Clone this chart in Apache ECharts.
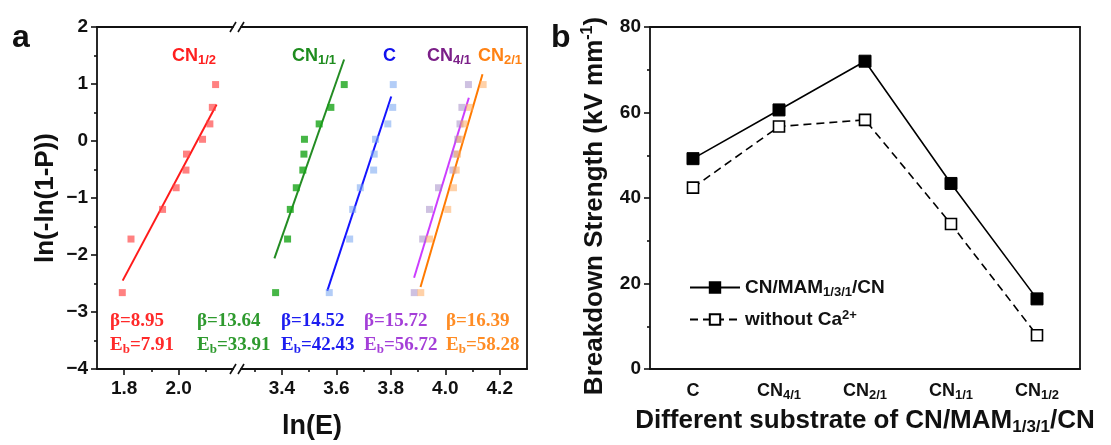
<!DOCTYPE html>
<html>
<head>
<meta charset="utf-8">
<script src="https://cdn.jsdelivr.net/npm/echarts@6/dist/echarts.min.js"></script>
<style>
  html, body { margin: 0; padding: 0; background: #fff; }
  #chart { width: 1111px; height: 445px; }
</style>
</head>
<body>
<div id="chart"></div>
<script>
// ---- (a) Weibull plots ----
// ln(-ln(1-P)) levels of the ten ranked samples
const weibullY = [-2.66, -1.72, -1.20, -0.82, -0.51, -0.23, 0.03, 0.30, 0.59, 0.99];
// ln(E) of the ranked breakdown fields for each film
const lnE_CN12 = [1.793, 1.825, 1.941, 1.991, 2.027, 2.029, 2.088, 2.115, 2.124, 2.136];
const lnE_CN11 = [3.377, 3.421, 3.431, 3.453, 3.477, 3.481, 3.483, 3.537, 3.580, 3.629];
const lnE_C    = [3.574, 3.649, 3.660, 3.688, 3.737, 3.739, 3.744, 3.789, 3.807, 3.809];
const lnE_CN41 = [3.886, 3.917, 3.942, 3.975, 4.028, 4.036, 4.046, 4.054, 4.061, 4.085];
const lnE_CN21 = [3.910, 3.942, 4.009, 4.030, 4.040, 4.045, 4.054, 4.069, 4.089, 4.139];
// film order used in panel (a)
const weibullFilms = ['CN1/2', 'CN1/1', 'C', 'CN4/1', 'CN2/1'];
// Weibull shape parameter and characteristic breakdown strength (kV/mm)
const beta = [8.95, 13.64, 14.52, 15.72, 16.39];
const Eb   = [7.91, 33.91, 42.43, 56.72, 58.28];
// y span covered by each fitted line
const fitYSpan = [[-2.45, 0.64], [-2.06, 1.43], [-2.63, 0.78], [-2.40, 0.76], [-2.56, 1.17]];
// tick values of the broken ln(E) axis
const xTicksLow  = [1.8, 2.0];
const xTicksHigh = [3.4, 3.6, 3.8, 4.0, 4.2];
const xMinorLow  = [1.9, 2.1];
const xMinorHigh = [3.3, 3.5, 3.7, 3.9, 4.1];

// ---- (b) breakdown strength vs substrate ----
const substrates = ['C', 'CN4/1', 'CN2/1', 'CN1/1', 'CN1/2'];
const withCa     = [49.2, 60.6, 72.0, 43.4, 16.4];
const withoutCa  = [42.43, 56.72, 58.28, 33.91, 7.91];

// ---------------- styling ----------------
const SANS = '"Liberation Sans", Arial, sans-serif';
const SERIF = '"Liberation Serif", "Times New Roman", serif';
const AXIS = '#111';
const AXW = 1.8;

const pointColor = ['rgba(255,70,70,0.85)', '#18a418', 'rgba(120,165,240,0.7)', 'rgba(155,130,195,0.62)', 'rgba(255,170,95,0.68)'];
const lineColor  = ['#ff1a1a', '#238c23', '#1414ff', '#cc3dff', '#ff7a00'];
const nameColor  = ['#ff1f1f', '#1e8c1e', '#1010ee', '#7b1f88', '#ff8214'];
const statColor  = ['#ff2a2a', '#2e9a2e', '#1e1ef0', '#a43fd8', '#ff8c24'];
const pointSets  = [lnE_CN12, lnE_CN11, lnE_C, lnE_CN41, lnE_CN21];

// layout of panel (a): two grids forming one broken frame
const gA1 = { left: 97, top: 27, width: 136, height: 342 };
const gA2 = { left: 241, top: 27, width: 286, height: 342 };
const gB  = { left: 650, top: 27, width: 430, height: 342 };

// text placement in panel (a)
const namePos = [[172, 47], [292, 47], [383, 47], [427, 47], [478, 47]];
const statX = [110, 197, 281, 364, 446];
const statTop = [312, 336];

function subLabel(txt) {
  // 'CN1/2' -> CN with subscript 1/2
  if (txt.length <= 2) return '{m|' + txt + '}';
  return '{m|' + txt.slice(0, 2) + '}{s|' + txt.slice(2) + '}';
}
const fmt1 = v => v.toFixed(1);
const minus = v => (v < 0 ? '\u2212' + Math.abs(v) : String(v));

// ---------------- series ----------------
const series = [];
weibullFilms.forEach((f, i) => {
  const low = i === 0;
  const xi = low ? 0 : 3;
  const yi = low ? 0 : 1;
  const lnEb = Math.log(Eb[i]);
  const fit = fitYSpan[i].map(y => [lnEb + y / beta[i], y]);
  series.push({
    type: 'line', name: f + ' fit', xAxisIndex: xi, yAxisIndex: yi,
    data: fit, showSymbol: false, silent: true, z: 2,
    lineStyle: { color: lineColor[i], width: 2 }
  });
  series.push({
    type: 'scatter', name: f, xAxisIndex: xi, yAxisIndex: yi,
    data: pointSets[i].map((x, k) => [x, weibullY[k]]),
    symbol: 'rect', symbolSize: 7, z: 3,
    itemStyle: { color: pointColor[i] }
  });
});

series.push({
  type: 'line', name: 'CN/MAM1/3/1/CN', xAxisIndex: 6, yAxisIndex: 2,
  data: withCa, symbol: 'rect', symbolSize: 12, z: 4,
  lineStyle: { color: '#000', width: 1.6 },
  itemStyle: { color: '#000', borderColor: '#000', borderWidth: 1 }
});
series.push({
  type: 'line', name: 'without Ca2+', xAxisIndex: 6, yAxisIndex: 2,
  data: withoutCa, symbol: 'rect', symbolSize: 11, z: 4,
  lineStyle: { color: '#000', width: 1.6, type: [8, 5] },
  itemStyle: { color: '#fff', borderColor: '#000', borderWidth: 1.6 }
});

// ---------------- axes ----------------
const frameLine = { show: true, onZero: false, lineStyle: { color: AXIS, width: AXW } };
const lineOnly = (extra) => Object.assign({
  axisLine: frameLine,
  axisTick: { show: false }, axisLabel: { show: false }, splitLine: { show: false }
}, extra);

const tickLabel = { color: '#111', fontFamily: SANS, fontWeight: 'bold', fontSize: 19 };

const xAxis = [
  // 0: lower segment, major ticks + labels
  { type: 'value', gridIndex: 0, position: 'bottom', min: 1.7, max: 2.2,
    axisLine: frameLine,
    axisTick: { customValues: xTicksLow, length: 6, lineStyle: { color: AXIS, width: 1.6 } },
    axisLabel: Object.assign({ customValues: xTicksLow, formatter: fmt1, margin: 10 }, tickLabel),
    splitLine: { show: false } },
  // 1: lower segment, minor ticks
  { type: 'value', gridIndex: 0, position: 'bottom', min: 1.7, max: 2.2,
    axisLine: { show: false, onZero: false },
    axisTick: { customValues: xMinorLow, length: 3, lineStyle: { color: AXIS, width: 1.6 } },
    axisLabel: { show: false }, splitLine: { show: false } },
  // 2: lower segment, top frame
  lineOnly({ type: 'value', gridIndex: 0, position: 'top', min: 1.7, max: 2.2 }),
  // 3: upper segment, major ticks + labels
  { type: 'value', gridIndex: 1, position: 'bottom', min: 3.25, max: 4.3,
    axisLine: frameLine,
    axisTick: { customValues: xTicksHigh, length: 6, lineStyle: { color: AXIS, width: 1.6 } },
    axisLabel: Object.assign({ customValues: xTicksHigh, formatter: fmt1, margin: 10 }, tickLabel),
    splitLine: { show: false } },
  // 4: upper segment, minor ticks
  { type: 'value', gridIndex: 1, position: 'bottom', min: 3.25, max: 4.3,
    axisLine: { show: false, onZero: false },
    axisTick: { customValues: xMinorHigh, length: 3, lineStyle: { color: AXIS, width: 1.6 } },
    axisLabel: { show: false }, splitLine: { show: false } },
  // 5: upper segment, top frame
  lineOnly({ type: 'value', gridIndex: 1, position: 'top', min: 3.25, max: 4.3 }),
  // 6: panel (b) substrates
  { type: 'category', gridIndex: 2, position: 'bottom', data: substrates, boundaryGap: true,
    axisLine: frameLine,
    axisTick: { alignWithLabel: true, interval: 0, length: 6, lineStyle: { color: AXIS, width: 1.6 } },
    axisLabel: {
      interval: 0, margin: 11, formatter: subLabel,
      rich: {
        m: { fontFamily: SANS, fontWeight: 'bold', fontSize: 18, color: '#111', lineHeight: 22 },
        s: { fontFamily: SANS, fontWeight: 'bold', fontSize: 13, color: '#111', lineHeight: 13, verticalAlign: 'bottom' }
      }
    },
    name: '{t|Different substrate of CN/MAM}{s|1/3/1}{t|/CN}',
    nameLocation: 'middle', nameGap: 37,
    nameTextStyle: {
      rich: {
        t: { fontFamily: SANS, fontWeight: 'bold', fontSize: 26, color: '#111', lineHeight: 30 },
        s: { fontFamily: SANS, fontWeight: 'bold', fontSize: 17, color: '#111', lineHeight: 17, verticalAlign: 'bottom' }
      }
    } },
  // 7: panel (b) top frame
  lineOnly({ type: 'category', gridIndex: 2, position: 'top', data: substrates })
];

const yAxis = [
  { type: 'value', gridIndex: 0, position: 'left', min: -4, max: 2, interval: 1,
    axisLine: frameLine,
    axisTick: { show: true, length: 6, lineStyle: { color: AXIS, width: 1.6 } },
    minorTick: { show: true, splitNumber: 2, length: 3, lineStyle: { color: AXIS, width: 1.6 } },
    axisLabel: Object.assign({ formatter: minus, margin: 9 }, tickLabel),
    splitLine: { show: false },
    name: 'ln(-ln(1-P))', nameLocation: 'middle', nameGap: 38,
    nameTextStyle: { fontFamily: SANS, fontWeight: 'bold', fontSize: 26, color: '#111' } },
  lineOnly({ type: 'value', gridIndex: 1, position: 'right', min: -4, max: 2 }),
  { type: 'value', gridIndex: 2, position: 'left', min: 0, max: 80, interval: 20,
    axisLine: frameLine,
    axisTick: { show: true, length: 6, lineStyle: { color: AXIS, width: 1.6 } },
    minorTick: { show: true, splitNumber: 2, length: 3, lineStyle: { color: AXIS, width: 1.6 } },
    axisLabel: Object.assign({ margin: 9 }, tickLabel),
    splitLine: { show: false },
    name: '{t|Breakdown Strength (kV mm}{p|-1}{t|)}', nameLocation: 'middle', nameGap: 40,
    nameTextStyle: {
      padding: [0, 16, 0, 0],
      rich: {
        t: { fontFamily: SANS, fontWeight: 'bold', fontSize: 26, color: '#111', lineHeight: 30 },
        p: { fontFamily: SANS, fontWeight: 'bold', fontSize: 16, color: '#111', lineHeight: 16, verticalAlign: 'top' }
      }
    } },
  lineOnly({ type: 'value', gridIndex: 2, position: 'right', min: 0, max: 80 })
];

// ---------------- text overlays ----------------
const graphic = [];
weibullFilms.forEach((f, i) => {
  graphic.push({
    type: 'text', left: namePos[i][0], top: namePos[i][1], z: 10,
    style: {
      text: subLabel(f),
      rich: {
        m: { fontFamily: SANS, fontWeight: 'bold', fontSize: 18, fill: nameColor[i], lineHeight: 21 },
        s: { fontFamily: SANS, fontWeight: 'bold', fontSize: 13, fill: nameColor[i], lineHeight: 13, verticalAlign: 'bottom' }
      }
    }
  });
  const serifRich = {
    t: { fontFamily: SERIF, fontWeight: 'bold', fontSize: 19, fill: statColor[i], lineHeight: 21 },
    b: { fontFamily: SERIF, fontWeight: 'bold', fontSize: 13, fill: statColor[i], lineHeight: 13, verticalAlign: 'bottom' }
  };
  graphic.push({
    type: 'text', left: statX[i], top: statTop[0], z: 10,
    style: { text: '{t|\u03b2=' + beta[i].toFixed(2) + '}', rich: serifRich }
  });
  graphic.push({
    type: 'text', left: statX[i], top: statTop[1], z: 10,
    style: { text: '{t|E}{b|b}{t|=' + Eb[i].toFixed(2) + '}', rich: serifRich }
  });
});

// panel letters and the ln(E) title spanning both segments
graphic.push({ type: 'text', left: 12, top: 22, style: { text: 'a', fontFamily: SANS, fontWeight: 'bold', fontSize: 32, fill: '#111' } });
graphic.push({ type: 'text', left: 551, top: 22, style: { text: 'b', fontFamily: SANS, fontWeight: 'bold', fontSize: 32, fill: '#111' } });
const aMid = (gA1.left + gA2.left + gA2.width) / 2;
graphic.push({ type: 'text', x: aMid, y: 427, style: { text: 'ln(E)', fontFamily: SANS, fontWeight: 'bold', fontSize: 27, fill: '#111', align: 'center', verticalAlign: 'middle' } });

// "//" marks where the ln(E) axis is broken
const gapL = gA1.left + gA1.width, gapR = gA2.left;
[gA1.top, gA1.top + gA1.height].forEach(y => {
  [gapL, gapR].forEach(x => {
    graphic.push({ type: 'line', z: 10, shape: { x1: x - 3, y1: y + 5, x2: x + 3, y2: y - 5 }, style: { stroke: AXIS, lineWidth: 1.6 } });
  });
});

const chart = echarts.init(document.getElementById('chart'), null, { renderer: 'canvas' });
chart.setOption({
  animation: false,
  backgroundColor: '#fff',
  textStyle: { fontFamily: SANS },
  grid: [
    Object.assign({ containLabel: false }, gA1),
    Object.assign({ containLabel: false }, gA2),
    Object.assign({ containLabel: false }, gB)
  ],
  xAxis: xAxis,
  yAxis: yAxis,
  legend: {
    data: ['CN/MAM1/3/1/CN', 'without Ca2+'],
    orient: 'vertical', left: 684, top: 273,
    itemWidth: 50, itemHeight: 13, itemGap: 10,
    formatter: name => name === 'without Ca2+'
      ? '{t|without Ca}{p|2+}'
      : '{t|CN/MAM}{s|1/3/1}{t|/CN}',
    textStyle: {
      rich: {
        t: { fontFamily: SANS, fontWeight: 'bold', fontSize: 19, color: '#111', lineHeight: 22 },
        s: { fontFamily: SANS, fontWeight: 'bold', fontSize: 13, color: '#111', lineHeight: 13, verticalAlign: 'bottom' },
        p: { fontFamily: SANS, fontWeight: 'bold', fontSize: 13, color: '#111', lineHeight: 13, verticalAlign: 'top' }
      }
    }
  },
  series: series,
  graphic: graphic
});
</script>
</body>
</html>
